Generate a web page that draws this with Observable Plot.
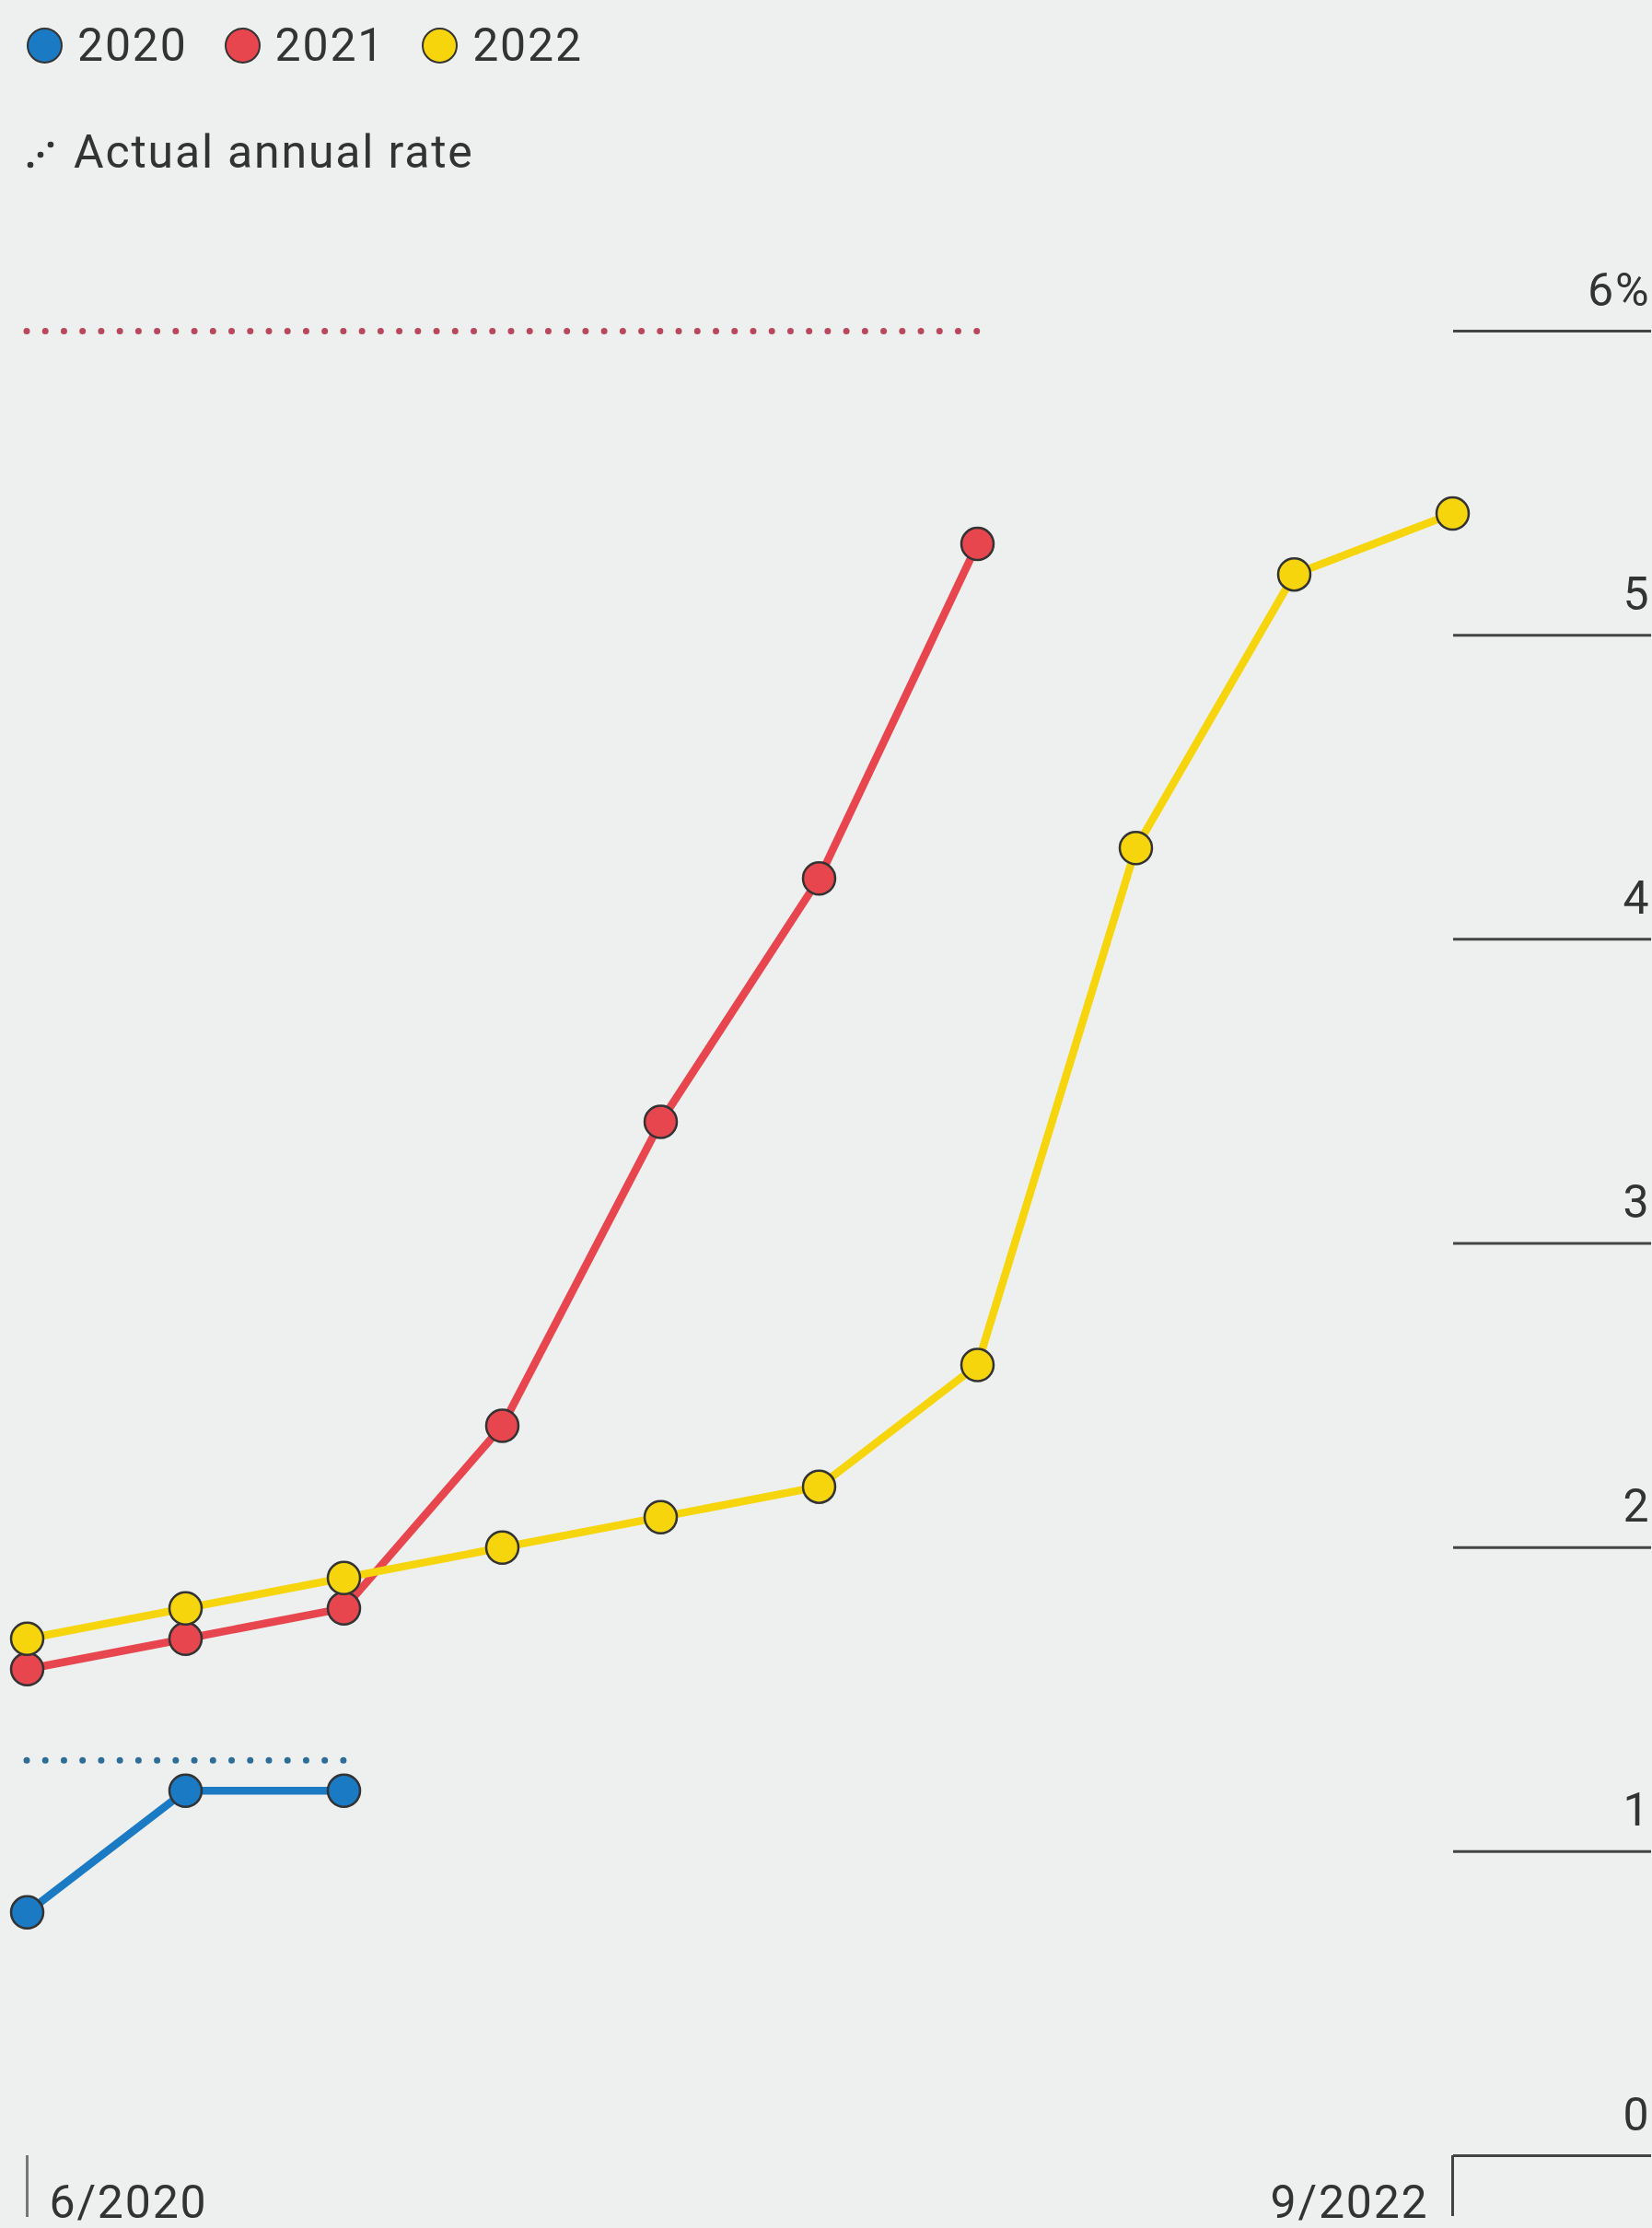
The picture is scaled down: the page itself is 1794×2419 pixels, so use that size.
<!DOCTYPE html>
<html>
<head>
<meta charset="utf-8">
<script src="https://cdn.jsdelivr.net/npm/d3@7"></script>
<script src="https://cdn.jsdelivr.net/npm/@observablehq/plot@0.6"></script>
<style>
  html, body { margin: 0; padding: 0; background: #eef0ef; }
  body { width: 1794px; height: 2419px; overflow: hidden; font-family: Roboto, sans-serif; color: #333; }
  #legend { position: relative; height: 230px; font-size: 50px; letter-spacing: 1.8px; }
  .row { position: absolute; left: 29px; height: 40px; display: flex; align-items: center; white-space: nowrap; }
  .sw { width: 35px; height: 35px; border-radius: 50%; border: 2px solid #333; box-sizing: content-box; margin-right: 16px; }
  .item { display: flex; align-items: center; margin-right: 40px; }
  #chart svg { display: block; }
</style>
</head>
<body>
<div id="legend"></div>
<div id="chart"></div>
<script>
// ---- data ----
const quarters = ["6/2020", "9/2020", "12/2020", "3/2021", "6/2021", "9/2021", "12/2021", "3/2022", "6/2022", "9/2022"];
const years = ["2020", "2021", "2022"];
const yearColors = ["#1a7ac4", "#e8464f", "#f6d50c"];
const actualDotColors = ["#2e6d97", "#b8485b"];
const forecast2020 = [0.8, 1.2, 1.2];
const forecast2021 = [1.6, 1.7, 1.8, 2.4, 3.4, 4.2, 5.3];
const forecast2022 = [1.7, 1.8, 1.9, 2.0, 2.1, 2.2, 2.6, 4.3, 5.2, 5.4];
const actualYears = ["2020", "2021"];
const actualRates = [1.3, 6.0];
const actualLastQuarter = ["12/2020", "12/2021"];
const yTicks = [0, 1, 2, 3, 4, 5, 6];
const legendLabel = "Actual annual rate";

// ---- tables ----
const seriesValues = [forecast2020, forecast2021, forecast2022];
const rows = [];
years.forEach((yr, k) => seriesValues[k].forEach((v, i) => rows.push({year: yr, quarter: quarters[i], value: v})));
const actual = actualYears.map((yr, k) => ({year: yr, value: actualRates[k], from: quarters[0], to: actualLastQuarter[k], color: actualDotColors[k]}));

// ---- legend ----
const legend = document.getElementById("legend");
const row1 = document.createElement("div");
row1.className = "row";
row1.style.top = "29px";
years.forEach((yr, k) => {
  const it = document.createElement("div");
  it.className = "item";
  const sw = document.createElement("span");
  sw.className = "sw";
  sw.style.background = yearColors[k];
  const t = document.createElement("span");
  t.textContent = yr;
  it.appendChild(sw); it.appendChild(t);
  row1.appendChild(it);
});
legend.appendChild(row1);
const row2 = document.createElement("div");
row2.className = "row";
row2.style.top = "145px";
row2.innerHTML = '<svg width="32" height="32" style="margin-right:19px;margin-top:6px"><circle cx="4" cy="27" r="3.3" fill="#333"/><circle cx="15" cy="16" r="3.3" fill="#333"/><circle cx="26" cy="5" r="3.3" fill="#333"/></svg>';
const t2 = document.createElement("span");
t2.textContent = legendLabel;
row2.appendChild(t2);
legend.appendChild(row2);

// ---- chart ----
const chart = Plot.plot({
  width: 1794,
  height: 2189,
  marginTop: 129,
  marginBottom: 79,
  marginLeft: 29,
  marginRight: 217,
  style: "background: transparent; font-family: Roboto, sans-serif; font-size: 50px; letter-spacing: 1.8px; color: #333; overflow: visible;",
  x: {type: "point", domain: quarters, padding: 0},
  y: {domain: [0, 6]},
  color: {domain: years, range: yearColors},
  marks: [
    // right-hand gridlines (ticks)
    Plot.axisY({anchor: "right", ticks: yTicks, tickSize: 215, text: null, stroke: "#444", strokeWidth: 3, label: null}),
    // right-hand labels above the gridlines
    Plot.axisY({
      anchor: "right", ticks: yTicks, tickSize: 0, tickPadding: 215,
      textAnchor: "end", lineAnchor: "bottom", dy: -28, label: null,
      tickFormat: d => d === 6 ? "6%" : String(d)
    }),
    // bottom ticks
    Plot.axisX({ticks: [quarters[0]], tickSize: 67, text: null, stroke: "#777", strokeWidth: 3, label: null}),
    Plot.axisX({ticks: [quarters[quarters.length - 1]], tickSize: 66, text: null, stroke: "#444", strokeWidth: 3, label: null}),
    // bottom labels
    Plot.axisX({ticks: [quarters[0]], tickSize: 0, tickPadding: 67, textAnchor: "start", lineAnchor: "bottom", dx: 24, label: null}),
    Plot.axisX({ticks: [quarters[quarters.length - 1]], tickSize: 0, tickPadding: 67, textAnchor: "end", lineAnchor: "bottom", dx: -26, label: null}),
    // actual annual rate (dotted)
    Plot.ruleY(actual, {
      y: "value", x1: "from", x2: "to", stroke: d => d.color,
      strokeWidth: 7, strokeDasharray: "0 20.23", strokeLinecap: "round"
    }),
    Plot.line(rows, {x: "quarter", y: "value", z: "year", stroke: "year", strokeWidth: 8.5, strokeLinejoin: "round"}),
    Plot.dot(rows, {x: "quarter", y: "value", fill: "year", stroke: "#333", strokeWidth: 2.5, r: 17.5})
  ]
});
document.getElementById("chart").appendChild(chart);
</script>
</body>
</html>
